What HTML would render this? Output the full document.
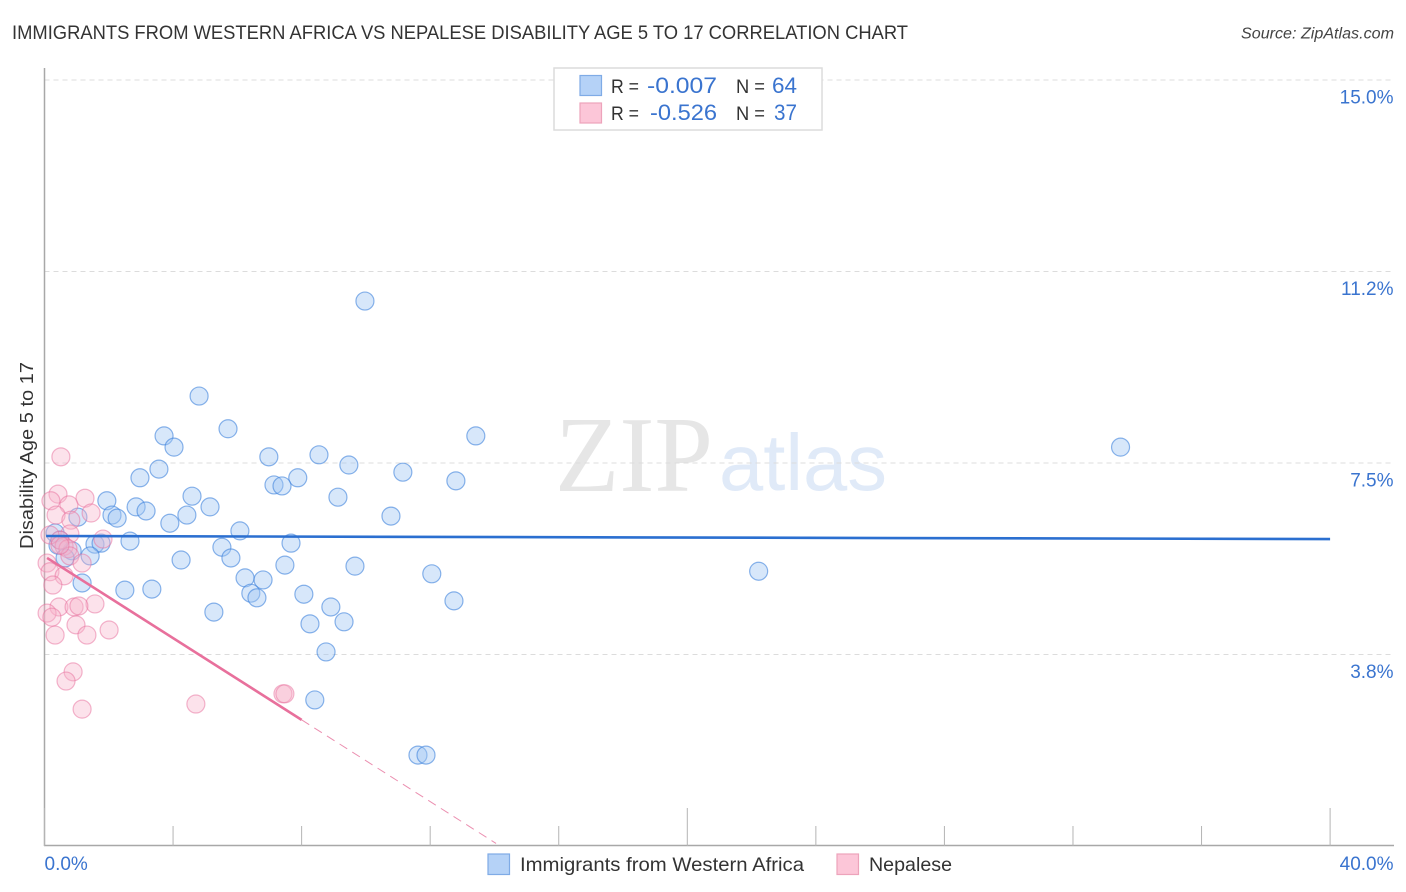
<!DOCTYPE html>
<html lang="en">
<head>
<meta charset="utf-8">
<title>Immigrants from Western Africa vs Nepalese Disability Age 5 to 17 Correlation Chart</title>
<style>
html,body{margin:0;padding:0;background:#fff;width:1406px;height:892px;overflow:hidden}
svg{display:block;font-family:"Liberation Sans",sans-serif}
</style>
</head>
<body>
<svg id="chart" xmlns="http://www.w3.org/2000/svg" width="1406" height="892" viewBox="0 0 1406 892">
  <text x="12" y="39" font-size="19.5" fill="#333" textLength="896" lengthAdjust="spacingAndGlyphs">IMMIGRANTS FROM WESTERN AFRICA VS NEPALESE DISABILITY AGE 5 TO 17 CORRELATION CHART</text>
  <text x="1241" y="38.5" font-size="15.5" font-style="italic" fill="#444" textLength="153" lengthAdjust="spacingAndGlyphs">Source: ZipAtlas.com</text>
  <g id="watermark">
    <text x="555" y="491" font-family="'Liberation Serif',serif" font-size="108" fill="#e6e6e6" textLength="158" lengthAdjust="spacingAndGlyphs">ZIP</text>
    <text x="719" y="490" font-size="80" fill="#e0eaf8" textLength="168" lengthAdjust="spacingAndGlyphs">atlas</text>
  </g>
  <g id="grid"></g>
  <g id="axes"></g>
  <g id="points"></g>
  <g id="trends"></g>
  <g id="labels"></g>

  <text transform="translate(33,455.5) rotate(-90)" text-anchor="middle" font-size="18" fill="#333" textLength="187" lengthAdjust="spacingAndGlyphs">Disability Age 5 to 17</text>

  <g>
    <rect x="554" y="68" width="268" height="62" fill="#fff" stroke="#dcdcdc" stroke-width="1.5"/>
    <rect x="580" y="75.5" width="21.5" height="20" fill="#b5d2f7" stroke="#7fabe6" stroke-width="1.2"/>
    <rect x="580" y="103" width="21.5" height="20" fill="#fcc6d8" stroke="#eda3bb" stroke-width="1.2"/>
    <text x="611" y="93" font-size="19.5" fill="#333" textLength="28" lengthAdjust="spacingAndGlyphs">R =</text>
    <text x="647" y="93" font-size="22.5" fill="#3a74cf" textLength="70" lengthAdjust="spacingAndGlyphs">-0.007</text>
    <text x="736" y="93" font-size="19.5" fill="#333" textLength="29" lengthAdjust="spacingAndGlyphs">N =</text>
    <text x="772" y="93" font-size="22" fill="#3a74cf" textLength="25" lengthAdjust="spacingAndGlyphs">64</text>
    <text x="611" y="120" font-size="19.5" fill="#333" textLength="28" lengthAdjust="spacingAndGlyphs">R =</text>
    <text x="650" y="120" font-size="22.5" fill="#3a74cf" textLength="67" lengthAdjust="spacingAndGlyphs">-0.526</text>
    <text x="736" y="120" font-size="19.5" fill="#333" textLength="29" lengthAdjust="spacingAndGlyphs">N =</text>
    <text x="774" y="120" font-size="22" fill="#3a74cf" textLength="23" lengthAdjust="spacingAndGlyphs">37</text>
  </g>

  <g>
    <rect x="488" y="854" width="21.5" height="20.5" fill="#b5d2f7" stroke="#7fabe6" stroke-width="1.2"/>
    <text x="520" y="871" font-size="19.5" fill="#333" textLength="284" lengthAdjust="spacingAndGlyphs">Immigrants from Western Africa</text>
    <rect x="837" y="854" width="21.5" height="20.5" fill="#fcc6d8" stroke="#eda3bb" stroke-width="1.2"/>
    <text x="869" y="871" font-size="19.5" fill="#333" textLength="83" lengthAdjust="spacingAndGlyphs">Nepalese</text>
  </g>
</svg>
<script>
// Chart data (percent units)
const blueX = [9.97,4.81,5.71,3.72,4.03,13.42,33.48,3.56,6.98,8.54,9.47,11.15,2.97,7.88,12.80,7.14,7.39,4.59,9.13,1.94,2.85,3.16,5.15,4.43,10.78,2.10,2.26,1.04,3.90,6.08,0.33,2.66,1.57,1.76,5.52,7.67,0.42,0.86,1.42,0.64,4.25,5.80,7.48,9.66,22.22,12.05,6.24,6.80,1.17,2.50,3.34,6.42,8.07,6.61,12.74,5.27,8.91,8.26,9.32,8.76,8.41,11.62,11.87,0.48];
const blueY = [10.67,8.81,8.17,8.03,7.81,8.03,7.81,7.38,7.62,7.66,7.46,7.32,7.21,7.21,7.15,7.07,7.05,6.85,6.83,6.76,6.64,6.56,6.64,6.48,6.46,6.48,6.42,6.44,6.32,6.17,6.13,5.97,5.91,5.93,5.85,5.93,5.89,5.78,5.68,5.64,5.60,5.64,5.50,5.48,5.38,5.33,5.25,5.21,5.15,5.01,5.03,4.95,4.93,4.86,4.80,4.58,4.68,4.35,4.39,3.80,2.86,1.78,1.78,5.99];
const pinkX = [0.51,0.42,1.26,0.20,0.76,1.45,0.36,0.82,0.79,1.82,0.48,0.17,0.61,0.73,0.79,1.17,0.08,0.17,0.61,0.26,0.45,1.57,0.92,1.07,0.08,0.23,0.98,1.32,0.33,2.01,0.89,0.67,1.17,4.71,7.42,7.48,0.48];
const pinkY = [7.62,6.89,6.81,6.76,6.68,6.52,6.48,6.38,6.11,6.01,5.99,6.09,5.87,5.82,5.68,5.54,5.54,5.37,5.29,5.11,4.68,4.74,4.68,4.70,4.56,4.48,4.33,4.13,4.13,4.23,3.41,3.23,2.68,2.78,2.98,2.98,5.89];
const blueTrendX = [0.05,40];
const blueTrendY = [6.07,6.01];
const pinkTrendX = [0.08,8.0];
const pinkTrendY = [5.64,2.47];
const pinkDashX = [8.0,14.05];
const pinkDashY = [2.47,0.05];
const yTicks = [3.75,7.5,11.25,15];
const yTickLabels = ["3.8%","7.5%","11.2%","15.0%"];
const xTicks = [0,4,8,12,16,20,24,28,32,36,40];
const xMajorTicks = [0,20,40];
const xTickLabels = ["0.0%","40.0%"];
const xLabelValues = [0,40];

const NS = "http://www.w3.org/2000/svg";
const xScale = v => 44.5 + v * 32.14;
const yScale = v => 846 - v * 51.07;
function make(tag, attrs, parent) {
  const el = document.createElementNS(NS, tag);
  for (const k in attrs) el.setAttribute(k, attrs[k]);
  parent.appendChild(el);
  return el;
}
const grid = document.getElementById('grid');
const axes = document.getElementById('axes');
const points = document.getElementById('points');
const trends = document.getElementById('trends');
const labels = document.getElementById('labels');

yTicks.forEach((t, i) => {
  const line = make('line', {x1: 44.5, x2: 1394, y1: yScale(t), y2: yScale(t), stroke: '#dcdcdc', 'stroke-width': 1, 'stroke-dasharray': '5 4'}, grid);
  
  
  const label = make('text', {x: 1393.5, y: yScale(t) + 23.5, 'text-anchor': 'end', 'font-size': 19, fill: '#3a74cf'}, labels);
  label.textContent = yTickLabels[i];
  
  
});

const yAxis = make('line', {x1: 44.5, x2: 44.5, y1: 68, y2: 846, stroke: '#a8a8a8', 'stroke-width': 1.5}, axes);


const xAxis = make('line', {x1: 44, x2: 1394, y1: 845.5, y2: 845.5, stroke: '#a8a8a8', 'stroke-width': 1.5}, axes);


xTicks.forEach(t => {
  const top = xMajorTicks.includes(t) ? 808 : 826;
  const tick = make('line', {x1: xScale(t), x2: xScale(t), y1: top, y2: 846, stroke: '#b4b4b4', 'stroke-width': 1}, axes);
  
  
});
xLabelValues.forEach((v, i) => {
  const label = make('text', {x: v === 0 ? 44.5 : 1393.5, y: 870, 'text-anchor': v === 0 ? 'start' : 'end', 'font-size': 19, fill: '#3a74cf'}, labels);
  label.textContent = xTickLabels[i];
  
  
});

blueX.forEach((v, i) => {
  const c = make('circle', {cx: xScale(v), cy: yScale(blueY[i]), r: 9, fill: 'rgba(160,197,243,0.42)', stroke: 'rgba(62,130,220,0.6)', 'stroke-width': 1.2}, points);
  
  
});
pinkX.forEach((v, i) => {
  const c = make('circle', {cx: xScale(v), cy: yScale(pinkY[i]), r: 9, fill: 'rgba(248,180,203,0.38)', stroke: 'rgba(232,110,155,0.5)', 'stroke-width': 1.2}, points);
  
  
});

const blueLine = make('line', {x1: xScale(blueTrendX[0]), y1: yScale(blueTrendY[0]), x2: xScale(blueTrendX[1]), y2: yScale(blueTrendY[1]), stroke: '#2b6fd0', 'stroke-width': 2.6}, trends);


const pinkLine = make('line', {x1: xScale(pinkTrendX[0]), y1: yScale(pinkTrendY[0]), x2: xScale(pinkTrendX[1]), y2: yScale(pinkTrendY[1]), stroke: '#e8709c', 'stroke-width': 2.6}, trends);


const pinkDash = make('line', {x1: xScale(pinkDashX[0]), y1: yScale(pinkDashY[0]), x2: xScale(pinkDashX[1]), y2: yScale(pinkDashY[1]), stroke: '#eb8fb0', 'stroke-width': 1, 'stroke-dasharray': '9 6'}, trends);


</script>
</body>
</html>
